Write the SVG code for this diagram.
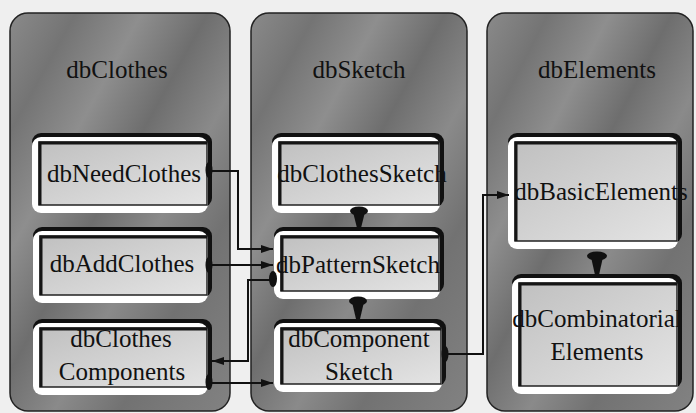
<svg xmlns="http://www.w3.org/2000/svg" width="696" height="413" viewBox="0 0 696 413">
<style>
.bg{fill:#efefef}
.cont{fill:url(#contGrad);stroke:#222;stroke-width:1.5}
.shadow{fill:#111}
.rim{fill:#fff}
.face{fill:url(#faceGrad);stroke:#222;stroke-width:1.5}
.inset{fill:none;stroke:#151515;stroke-width:3}
.t{font-family:'Liberation Serif','Times New Roman',serif;font-size:25px;fill:#111;text-anchor:middle}
.wire{fill:none;stroke:#111;stroke-width:2}
.dot{fill:#111}
</style>
<defs>
<linearGradient id="contGrad" x1="0" y1="0" x2="1" y2="1">
<stop offset="0" stop-color="#8a8a8a"/>
<stop offset="0.15" stop-color="#747474"/>
<stop offset="0.3" stop-color="#8e8e8e"/>
<stop offset="0.45" stop-color="#6e6e6e"/>
<stop offset="0.6" stop-color="#8a8a8a"/>
<stop offset="0.75" stop-color="#727272"/>
<stop offset="1" stop-color="#828282"/>
</linearGradient>
<linearGradient id="faceGrad" x1="0" y1="0" x2="1" y2="1">
<stop offset="0" stop-color="#c0c0c0"/>
<stop offset="0.5" stop-color="#d2d2d2"/>
<stop offset="1" stop-color="#e4e4e4"/>
</linearGradient>
<marker id="arrow" viewBox="0 0 12 8" refX="12" refY="4" markerWidth="12" markerHeight="8" markerUnits="userSpaceOnUse" orient="auto">
<path d="M0,0 L12,4 L0,8 Z" fill="#111"/>
</marker>
</defs>
<rect class="bg" x="0" y="0" width="696" height="413"/>

<g id="dbClothes">
<rect class="cont" x="10" y="13" width="220" height="398" rx="18"/>
<text class="t" x="117" y="78" font-family="Liberation Serif, serif">dbClothes</text>
</g>
<g id="dbSketch">
<rect class="cont" x="251" y="13" width="216" height="398" rx="18"/>
<text class="t" x="359" y="78" font-family="Liberation Serif, serif">dbSketch</text>
</g>
<g id="dbElements">
<rect class="cont" x="487" y="13" width="206" height="398" rx="18"/>
<text class="t" x="597" y="78" font-family="Liberation Serif, serif">dbElements</text>
</g>

<g id="dbNeedClothes">
<rect class="shadow" x="32" y="133" width="180" height="74" rx="9"/>
<rect class="rim" x="32" y="137" width="176" height="76" rx="9"/>
<rect class="face" x="39" y="142" width="168" height="63"/>
<path class="inset" d="M40,205 V143 H207"/>
<text class="t" x="124" y="182" font-family="Liberation Serif, serif">dbNeedClothes</text>
</g>
<g id="dbAddClothes">
<rect class="shadow" x="33" y="227" width="179" height="70" rx="9"/>
<rect class="rim" x="33" y="231" width="175" height="72" rx="9"/>
<rect class="face" x="40" y="236" width="167" height="59"/>
<path class="inset" d="M41,295 V237 H207"/>
<text class="t" x="122" y="272" font-family="Liberation Serif, serif">dbAddClothes</text>
</g>
<g id="dbClothesComponents">
<rect class="shadow" x="33" y="319" width="179" height="70" rx="9"/>
<rect class="rim" x="33" y="323" width="175" height="72" rx="9"/>
<rect class="face" x="40" y="328" width="167" height="59"/>
<path class="inset" d="M41,387 V329 H207"/>
<text class="t" x="121" y="347" font-family="Liberation Serif, serif">dbClothes</text>
<text class="t" x="122" y="380" font-family="Liberation Serif, serif">Components</text>
</g>

<g id="dbClothesSketch">
<rect class="shadow" x="272" y="133" width="172" height="74" rx="9"/>
<rect class="rim" x="272" y="137" width="168" height="76" rx="9"/>
<rect class="face" x="279" y="142" width="160" height="63"/>
<path class="inset" d="M280,205 V143 H439"/>
<text class="t" x="362" y="182" font-family="Liberation Serif, serif">dbClothesSketch</text>
</g>
<g id="dbPatternSketch">
<rect class="shadow" x="274" y="227" width="170" height="66" rx="9"/>
<rect class="rim" x="274" y="231" width="166" height="68" rx="9"/>
<rect class="face" x="281" y="236" width="158" height="55"/>
<path class="inset" d="M282,291 V237 H439"/>
<text class="t" x="358" y="273" font-family="Liberation Serif, serif">dbPatternSketch</text>
</g>
<g id="dbComponentSketch">
<rect class="shadow" x="274" y="319" width="172" height="67" rx="9"/>
<rect class="rim" x="274" y="323" width="168" height="69" rx="9"/>
<rect class="face" x="281" y="328" width="160" height="56"/>
<path class="inset" d="M282,384 V329 H441"/>
<text class="t" x="359" y="347" font-family="Liberation Serif, serif">dbComponent</text>
<text class="t" x="359" y="380" font-family="Liberation Serif, serif">Sketch</text>
</g>

<g id="dbBasicElements">
<rect class="shadow" x="508" y="133" width="174" height="110" rx="9"/>
<rect class="rim" x="508" y="137" width="170" height="112" rx="9"/>
<rect class="face" x="515" y="142" width="162" height="99"/>
<path class="inset" d="M516,241 V143 H677"/>
<text class="t" x="601" y="200" font-family="Liberation Serif, serif">dbBasicElements</text>
</g>
<g id="dbCombinatorialElements">
<rect class="shadow" x="512" y="274" width="170" height="114" rx="9"/>
<rect class="rim" x="512" y="278" width="166" height="116" rx="9"/>
<rect class="face" x="519" y="283" width="158" height="103"/>
<path class="inset" d="M520,386 V284 H677"/>
<text class="t" x="597" y="327" font-family="Liberation Serif, serif">dbCombinatorial</text>
<text class="t" x="597" y="360" font-family="Liberation Serif, serif">Elements</text>
</g>

<g id="connectors">
<path class="wire" d="M209,171 H238 V249 H273" marker-end="url(#arrow)"/>
<ellipse class="dot" cx="209" cy="170" rx="3.5" ry="8"/>
<path class="wire" d="M209,265 H273" marker-end="url(#arrow)"/>
<ellipse class="dot" cx="209" cy="265" rx="3.5" ry="8"/>
<path class="wire" d="M273,280 H248 V361 H212" marker-end="url(#arrow)"/>
<ellipse class="dot" cx="273" cy="279" rx="4" ry="8"/>
<path class="wire" d="M209,383 H273" marker-end="url(#arrow)"/>
<ellipse class="dot" cx="209" cy="382" rx="3.5" ry="8"/>
<path class="wire" d="M445,354 H483 V195 H509" marker-end="url(#arrow)"/>
<ellipse class="dot" cx="445" cy="354" rx="3.5" ry="8"/>
<g id="pin-clothes-pattern">
<ellipse class="dot" cx="359" cy="211" rx="9" ry="4.5"/>
<path class="dot" d="M353,212 L365,212 L361,228 L357,228 Z"/>
</g>
<g id="pin-pattern-component">
<ellipse class="dot" cx="358" cy="301" rx="9" ry="4.5"/>
<path class="dot" d="M352,302 L364,302 L360,319 L356,319 Z"/>
</g>
<g id="pin-basic-combinatorial">
<ellipse class="dot" cx="597" cy="256" rx="10" ry="4.5"/>
<path class="dot" d="M591,257 L603,257 L599,275 L595,275 Z"/>
</g>
</g>
</svg>
